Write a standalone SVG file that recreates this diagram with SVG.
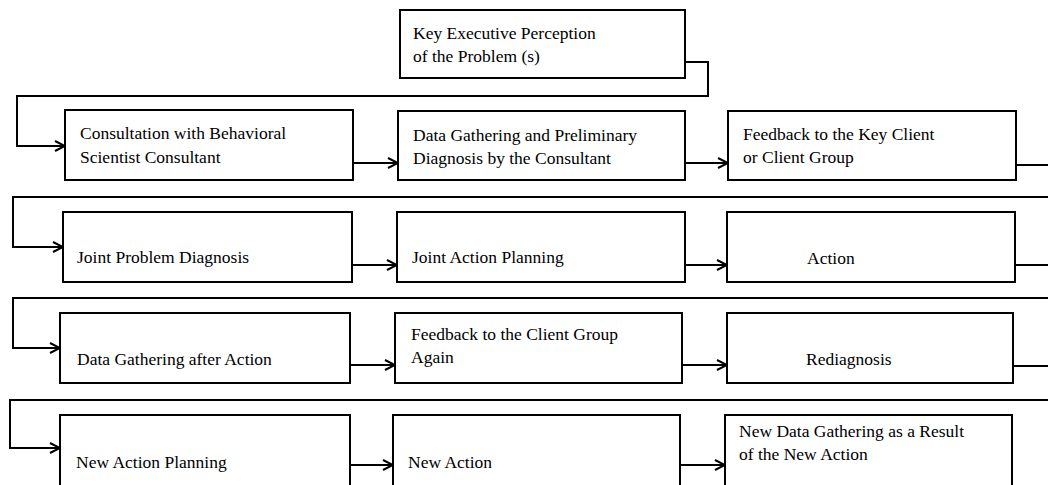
<svg xmlns="http://www.w3.org/2000/svg" width="1048" height="485" viewBox="0 0 1048 485">
  <style>
    .box { fill: #fff; stroke: #000; stroke-width: 2; }
    .lbl { font-family: "Liberation Serif", "Times New Roman", serif; font-size: 17.5px; fill: #000; }
    .wire { fill: none; stroke: #000; stroke-width: 2; }
    .arr { fill: none; stroke: #000; stroke-width: 2; marker-end: url(#head); }
  </style>
  <defs>
    <marker id="head" markerUnits="userSpaceOnUse" markerWidth="14" markerHeight="14" viewBox="0 0 14 14" refX="12" refY="7" orient="auto">
      <path d="M2,2 L12,7 L2,12" fill="none" stroke="#000" stroke-width="2"/>
    </marker>
  </defs>
  <rect width="1048" height="485" fill="#fff"/>

  <!-- connectors -->
  <g id="connectors">
    <!-- from the top box down to the first row -->
    <path class="arr" d="M685,62 H708 V96 H17 V146 H65"/>
    <!-- row 1 -->
    <path class="arr" d="M353,163 H398"/>
    <path class="arr" d="M685,163 H728"/>
    <path class="wire" d="M1016,165 H1048"/>
    <path class="arr" d="M1048,197 H13 V247 H63"/>
    <!-- row 2 -->
    <path class="arr" d="M352,265 H397"/>
    <path class="arr" d="M685,265 H727"/>
    <path class="wire" d="M1015,265 H1048"/>
    <path class="arr" d="M1048,298 H13 V348 H60"/>
    <!-- row 3 -->
    <path class="arr" d="M350,365 H395"/>
    <path class="arr" d="M682,365 H727"/>
    <path class="wire" d="M1013,366 H1048"/>
    <path class="arr" d="M1048,400 H10 V448 H60"/>
    <!-- row 4 -->
    <path class="arr" d="M350,465 H393"/>
    <path class="arr" d="M680,465 H725"/>
  </g>

  <g id="n0">
    <rect class="box" x="400" y="10" width="285" height="68"/>
    <text class="lbl" x="413" y="39">Key Executive Perception</text>
    <text class="lbl" x="413" y="62">of the Problem (s)</text>
  </g>

  <!-- row 1 -->
  <g id="n1">
    <rect class="box" x="65" y="110" width="288" height="70"/>
    <text class="lbl" x="80" y="139">Consultation with Behavioral</text>
    <text class="lbl" x="80" y="163">Scientist Consultant</text>
  </g>
  <g id="n2">
    <rect class="box" x="398" y="111" width="287" height="69"/>
    <text class="lbl" x="413" y="141">Data Gathering and Preliminary</text>
    <text class="lbl" x="413" y="164">Diagnosis by the Consultant</text>
  </g>
  <g id="n3">
    <rect class="box" x="728" y="111" width="288" height="69"/>
    <text class="lbl" x="743" y="140">Feedback to the Key Client</text>
    <text class="lbl" x="743" y="163">or Client Group</text>
  </g>

  <!-- row 2 -->
  <g id="n4">
    <rect class="box" x="63" y="212" width="289" height="70"/>
    <text class="lbl" x="77" y="263">Joint Problem Diagnosis</text>
  </g>
  <g id="n5">
    <rect class="box" x="397" y="212" width="288" height="70"/>
    <text class="lbl" x="412" y="263">Joint Action Planning</text>
  </g>
  <g id="n6">
    <rect class="box" x="727" y="212" width="288" height="70"/>
    <text class="lbl" x="807" y="264">Action</text>
  </g>

  <!-- row 3 -->
  <g id="n7">
    <rect class="box" x="60" y="313" width="290" height="70"/>
    <text class="lbl" x="77" y="365">Data Gathering after Action</text>
  </g>
  <g id="n8">
    <rect class="box" x="395" y="313" width="287" height="70"/>
    <text class="lbl" x="411" y="340">Feedback to the Client Group</text>
    <text class="lbl" x="411" y="363">Again</text>
  </g>
  <g id="n9">
    <rect class="box" x="727" y="313" width="286" height="70"/>
    <text class="lbl" x="806" y="365">Rediagnosis</text>
  </g>

  <!-- row 4 (runs off the bottom edge) -->
  <g id="n10">
    <rect class="box" x="60" y="415" width="290" height="80"/>
    <text class="lbl" x="76" y="468">New Action Planning</text>
  </g>
  <g id="n11">
    <rect class="box" x="393" y="415" width="287" height="80"/>
    <text class="lbl" x="408" y="468">New Action</text>
  </g>
  <g id="n12">
    <rect class="box" x="725" y="415" width="287" height="80"/>
    <text class="lbl" x="739" y="437">New Data Gathering as a Result</text>
    <text class="lbl" x="739" y="460">of the New Action</text>
  </g>
</svg>
